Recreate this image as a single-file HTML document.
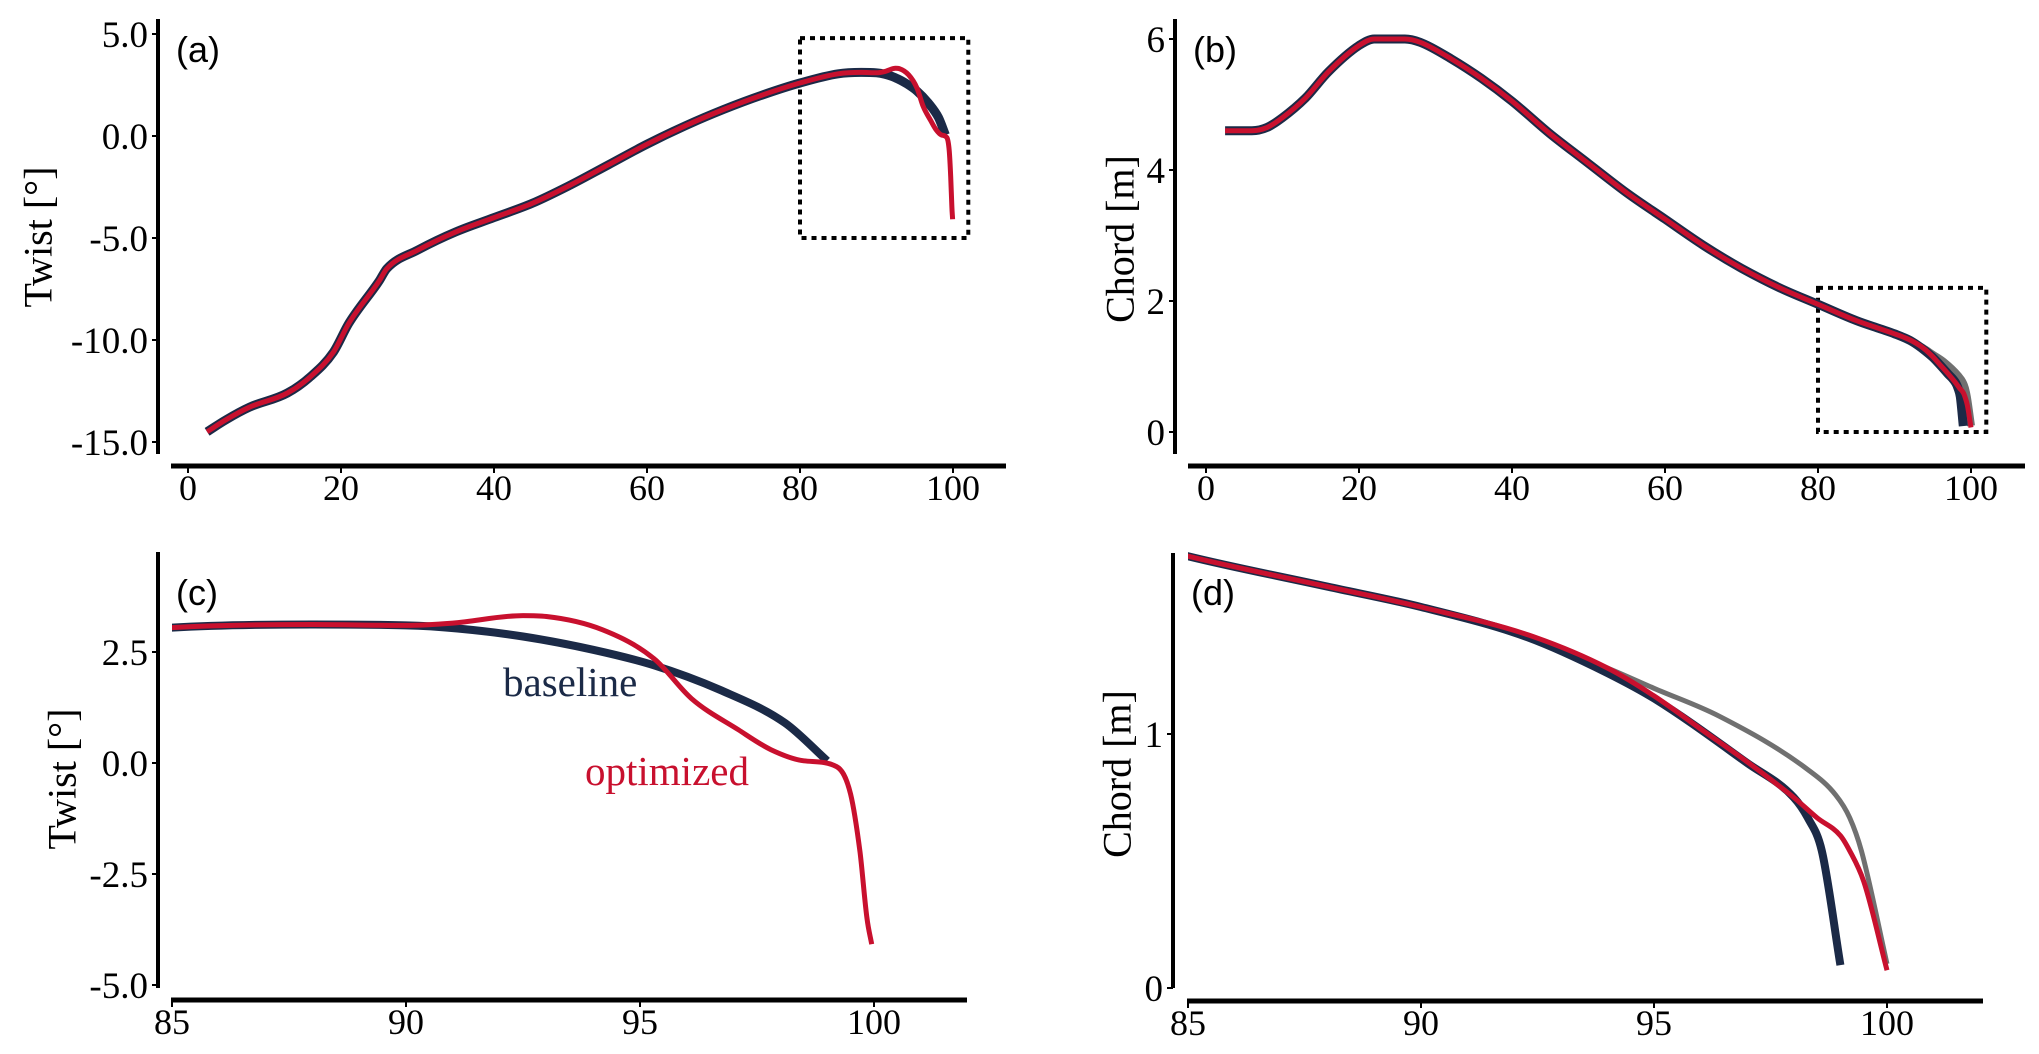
<!DOCTYPE html>
<html><head><meta charset="utf-8"><style>
html,body{margin:0;padding:0;background:#fff;overflow:hidden;width:2039px;height:1054px;}
svg{display:block;}
</style></head><body>
<svg id="fig" width="2039" height="1054" viewBox="0 0 2039 1054" xmlns="http://www.w3.org/2000/svg"></svg>
<script>
// ---- data ----
const twistBaseX = [2.5,5,8,13,16,19,21,25,26,30,35,40,45,50,55,60,65,70,75,80,85,88,90,91.1,92.5,94,95.3,96.7,98.1,99];
const twistBaseY = [-14.5,-13.9,-13.3,-12.6,-11.8,-10.6,-9.2,-7.1,-6.5,-5.6,-4.7,-4.0,-3.3,-2.4,-1.4,-0.4,0.5,1.3,2.0,2.6,3.05,3.12,3.1,3.03,2.85,2.55,2.2,1.65,0.9,0.05];
const twistOptX = [2.5,5,8,13,16,19,21,25,26,30,35,40,45,50,55,60,65,70,75,80,85,88,90,91,92.5,93,94.2,95.3,96.1,97.1,97.8,98.5,99.2,99.5,99.7,99.85,99.95];
const twistOptY = [-14.5,-13.9,-13.3,-12.6,-11.8,-10.6,-9.2,-7.1,-6.5,-5.6,-4.7,-4.0,-3.3,-2.4,-1.4,-0.4,0.5,1.3,2.0,2.6,3.05,3.12,3.1,3.15,3.32,3.3,3.0,2.35,1.45,0.75,0.3,0.05,-0.08,-0.7,-2.0,-3.5,-4.08];
const chordBaseX = [2.5,6,8,10,13,16,20,22,26,28,32,36,40,45,50,55,60,65,70,75,80,85,88,90,92.3,94,95,97,98,98.3,98.6,99];
const chordBaseY = [4.6,4.6,4.65,4.8,5.1,5.5,5.9,6.0,6.0,5.95,5.7,5.4,5.05,4.55,4.1,3.65,3.25,2.85,2.5,2.2,1.95,1.7,1.58,1.5,1.38,1.24,1.14,0.886,0.75,0.67,0.54,0.09];
const chordOptX = [2.5,6,8,10,13,16,20,22,26,28,32,36,40,45,50,55,60,65,70,75,80,85,88,90,92.3,94,95,96,97,98,98.5,99,99.2,99.5,100];
const chordOptY = [4.6,4.6,4.65,4.8,5.1,5.5,5.9,6.0,6.0,5.95,5.7,5.4,5.05,4.55,4.1,3.65,3.25,2.85,2.5,2.2,1.95,1.7,1.58,1.5,1.39,1.26,1.15,1.02,0.89,0.75,0.67,0.6,0.54,0.42,0.07];
const chordGreyX = [85,88,90,92.3,93,94,95,96.4,98.3,98.9,99.2,99.45,100];
const chordGreyY = [1.7,1.58,1.5,1.38,1.33,1.26,1.18,1.07,0.86,0.76,0.67,0.54,0.095];
const ticksAX = [0,20,40,60,80,100];
const ticksAY = [5,0,-5,-10,-15];
const labelsAY = ["5.0","0.0","-5.0","-10.0","-15.0"];
const ticksBY = [6,4,2,0];
const labelsBY = ["6","4","2","0"];
const ticksCX = [85,90,95,100];
const ticksCY = [2.5,0,-2.5,-5];
const labelsCY = ["2.5","0.0","-2.5","-5.0"];
const ticksDY = [1,0];
const labelsDY = ["1","0"];

const NS = "http://www.w3.org/2000/svg";
const svg = document.getElementById('fig');
function mk(tag, attrs, parent){
  const e = document.createElementNS(NS, tag);
  for (const k in attrs) e.setAttribute(k, attrs[k]);
  (parent||svg).appendChild(e);
  return e;
}
const NAVY="#1b2a47", RED="#c8102e", GREY="#707070";
const SERIF='"Liberation Serif", serif', SANS='"Liberation Sans", sans-serif';

function monoPath(px, py){
  const n = px.length;
  if (n < 3) return px.map((x,i)=>(i?'L':'M')+x.toFixed(1)+','+py[i].toFixed(1)).join(' ');
  const h=[], d=[];
  for (let i=0;i<n-1;i++){ h[i]=px[i+1]-px[i]; d[i]=(py[i+1]-py[i])/h[i]; }
  const m=[d[0]];
  for (let i=1;i<n-1;i++){ m[i] = (d[i-1]*d[i] <= 0) ? 0 : (d[i-1]+d[i])/2; }
  m[n-1]=d[n-2];
  for (let i=0;i<n-1;i++){
    if (d[i]===0){ m[i]=0; m[i+1]=0; continue; }
    const a=m[i]/d[i], b=m[i+1]/d[i], s=a*a+b*b;
    if (s>9){ const t=3/Math.sqrt(s); m[i]=t*a*d[i]; m[i+1]=t*b*d[i]; }
  }
  let p='M'+px[0].toFixed(1)+','+py[0].toFixed(1);
  for (let i=0;i<n-1;i++){
    const c1x=px[i]+h[i]/3, c1y=py[i]+m[i]*h[i]/3, c2x=px[i+1]-h[i]/3, c2y=py[i+1]-m[i+1]*h[i]/3;
    p+=` C${c1x.toFixed(1)},${c1y.toFixed(1)} ${c2x.toFixed(1)},${c2y.toFixed(1)} ${px[i+1].toFixed(1)},${py[i+1].toFixed(1)}`;
  }
  return p;
}

function panel(p){
  const g = mk('g', {});
  
  
  const sx = v => p.x0px + (v - p.x0) * p.kx;
  const sy = v => p.y0px - (v - p.y0) * p.ky;
  const cid = 'clip-' + p.name;
  const cp = mk('clipPath', {id: cid}, g);
  mk('rect', {x: p.clipX, y: p.spineTop - 5, width: p.axisEnd - p.clipX, height: p.axisY - p.spineTop + 5}, cp);
  const ys = mk('line', {x1:p.spineX, y1:p.spineTop, x2:p.spineX, y2:p.spineBot, stroke:'#000', 'stroke-width':4}, g);
  
  
  const xs = mk('line', {x1:p.axisStart, y1:p.axisY, x2:p.axisEnd, y2:p.axisY, stroke:'#000', 'stroke-width':5}, g);
  
  
  p.yticks.forEach((v,i)=>{
    const y = sy(v);
    mk('line', {x1:p.spineX-6, y1:y, x2:p.spineX, y2:y, stroke:'#000', 'stroke-width':2}, g);
    const t = mk('text', {x:p.spineX-10, y:y+13, 'text-anchor':'end', 'font-family':SERIF, 'font-size':37, fill:'#000'}, g);
    t.textContent = p.ylabels[i];
    
    
  });
  p.xticks.forEach(v=>{
    const x = sx(v);
    mk('line', {x1:x, y1:p.axisY, x2:x, y2:p.axisY+7, stroke:'#000', 'stroke-width':2}, g);
    const t = mk('text', {x:x, y:p.axisY+34, 'text-anchor':'middle', 'font-family':SERIF, 'font-size':36, fill:'#000'}, g);
    t.textContent = String(v);
    
    
  });
  const yl = mk('text', {x:p.ylx, y:p.yly, 'text-anchor':'middle', 'font-family':SERIF, 'font-size':40, fill:'#000', transform:`rotate(-90 ${p.ylx} ${p.yly})`, 'dominant-baseline':'central'}, g);
  yl.textContent = p.ylabel;
  
  
  const pt = mk('text', {x:p.spineX+18, y:p.tagY, 'font-family':SANS, 'font-size':36, fill:'#000'}, g);
  pt.textContent = p.tag;
  
  
  if (p.box){
    const b = p.box;
    const r = mk('rect', {x:sx(b[0]), y:sy(b[3]), width:sx(b[1])-sx(b[0]), height:sy(b[2])-sy(b[3]), fill:'none', stroke:'#000', 'stroke-width':4, 'stroke-dasharray':'5 5'}, g);
    
    
  }
  const lg = mk('g', {'clip-path':`url(#${cid})`}, g);
  p.series.forEach(s=>{
    const d = monoPath(s.x.map(sx), s.y.map(sy));
    const path = mk('path', {d:d, fill:'none', stroke:s.color, 'stroke-width':s.w, 'stroke-linejoin':'round', 'stroke-linecap':'butt'}, lg);
    
    
  });
  return g;
}

panel({name:'twist-panel-a', tag:'(a)', tagY:62, ylabel:'Twist [°]', ylx:38, yly:237,
  x0:0, x0px:188, kx:7.65, y0:0, y0px:136, ky:20.4,
  spineX:158, spineTop:19, spineBot:454, axisY:466, axisStart:171, axisEnd:1006, clipX:160,
  xticks:ticksAX, yticks:ticksAY, ylabels:labelsAY, box:[80,102,-5,4.8],
  series:[{name:'baseline-twist-line', x:twistBaseX, y:twistBaseY, color:NAVY, w:9},
          {name:'optimized-twist-line', x:twistOptX, y:twistOptY, color:RED, w:5}]});

panel({name:'chord-panel-b', tag:'(b)', tagY:62, ylabel:'Chord [m]', ylx:1120, yly:239,
  x0:0, x0px:1206, kx:7.65, y0:0, y0px:432, ky:65.5,
  spineX:1175, spineTop:19, spineBot:454, axisY:466, axisStart:1188, axisEnd:2025, clipX:1177,
  xticks:ticksAX, yticks:ticksBY, ylabels:labelsBY, box:[80,102,0,2.2],
  series:[{name:'reference-chord-line', x:chordGreyX, y:chordGreyY, color:GREY, w:8},
          {name:'baseline-chord-line', x:chordBaseX, y:chordBaseY, color:NAVY, w:9},
          {name:'optimized-chord-line', x:chordOptX, y:chordOptY, color:RED, w:5}]});

panel({name:'twist-zoom-panel-c', tag:'(c)', tagY:605, ylabel:'Twist [°]', ylx:62, yly:779,
  x0:85, x0px:172, kx:46.8, y0:0, y0px:763, ky:44.4,
  spineX:158, spineTop:552, spineBot:988, axisY:1000, axisStart:171, axisEnd:967, clipX:172,
  xticks:ticksCX, yticks:ticksCY, ylabels:labelsCY, box:null,
  series:[{name:'baseline-twist-line', x:twistBaseX, y:twistBaseY, color:NAVY, w:8},
          {name:'optimized-twist-line', x:twistOptX, y:twistOptY, color:RED, w:5}]});

panel({name:'chord-zoom-panel-d', tag:'(d)', tagY:605, ylabel:'Chord [m]', ylx:1117, yly:774,
  x0:85, x0px:1188, kx:46.6, y0:0, y0px:988, ky:254,
  spineX:1173, spineTop:553, spineBot:988, axisY:1001, axisStart:1187, axisEnd:1983, clipX:1188,
  xticks:ticksCX, yticks:ticksDY, ylabels:labelsDY, box:null,
  series:[{name:'reference-chord-line', x:chordGreyX, y:chordGreyY, color:GREY, w:5},
          {name:'baseline-chord-line', x:chordBaseX, y:chordBaseY, color:NAVY, w:8},
          {name:'optimized-chord-line', x:chordOptX, y:chordOptY, color:RED, w:5}]});

const t1 = mk('text', {x:503, y:696, 'font-family':SERIF, 'font-size':41, fill:NAVY});
t1.textContent = 'baseline';


const t2 = mk('text', {x:585, y:785, 'font-family':SERIF, 'font-size':41, fill:RED});
t2.textContent = 'optimized';


</script>
</body></html>
